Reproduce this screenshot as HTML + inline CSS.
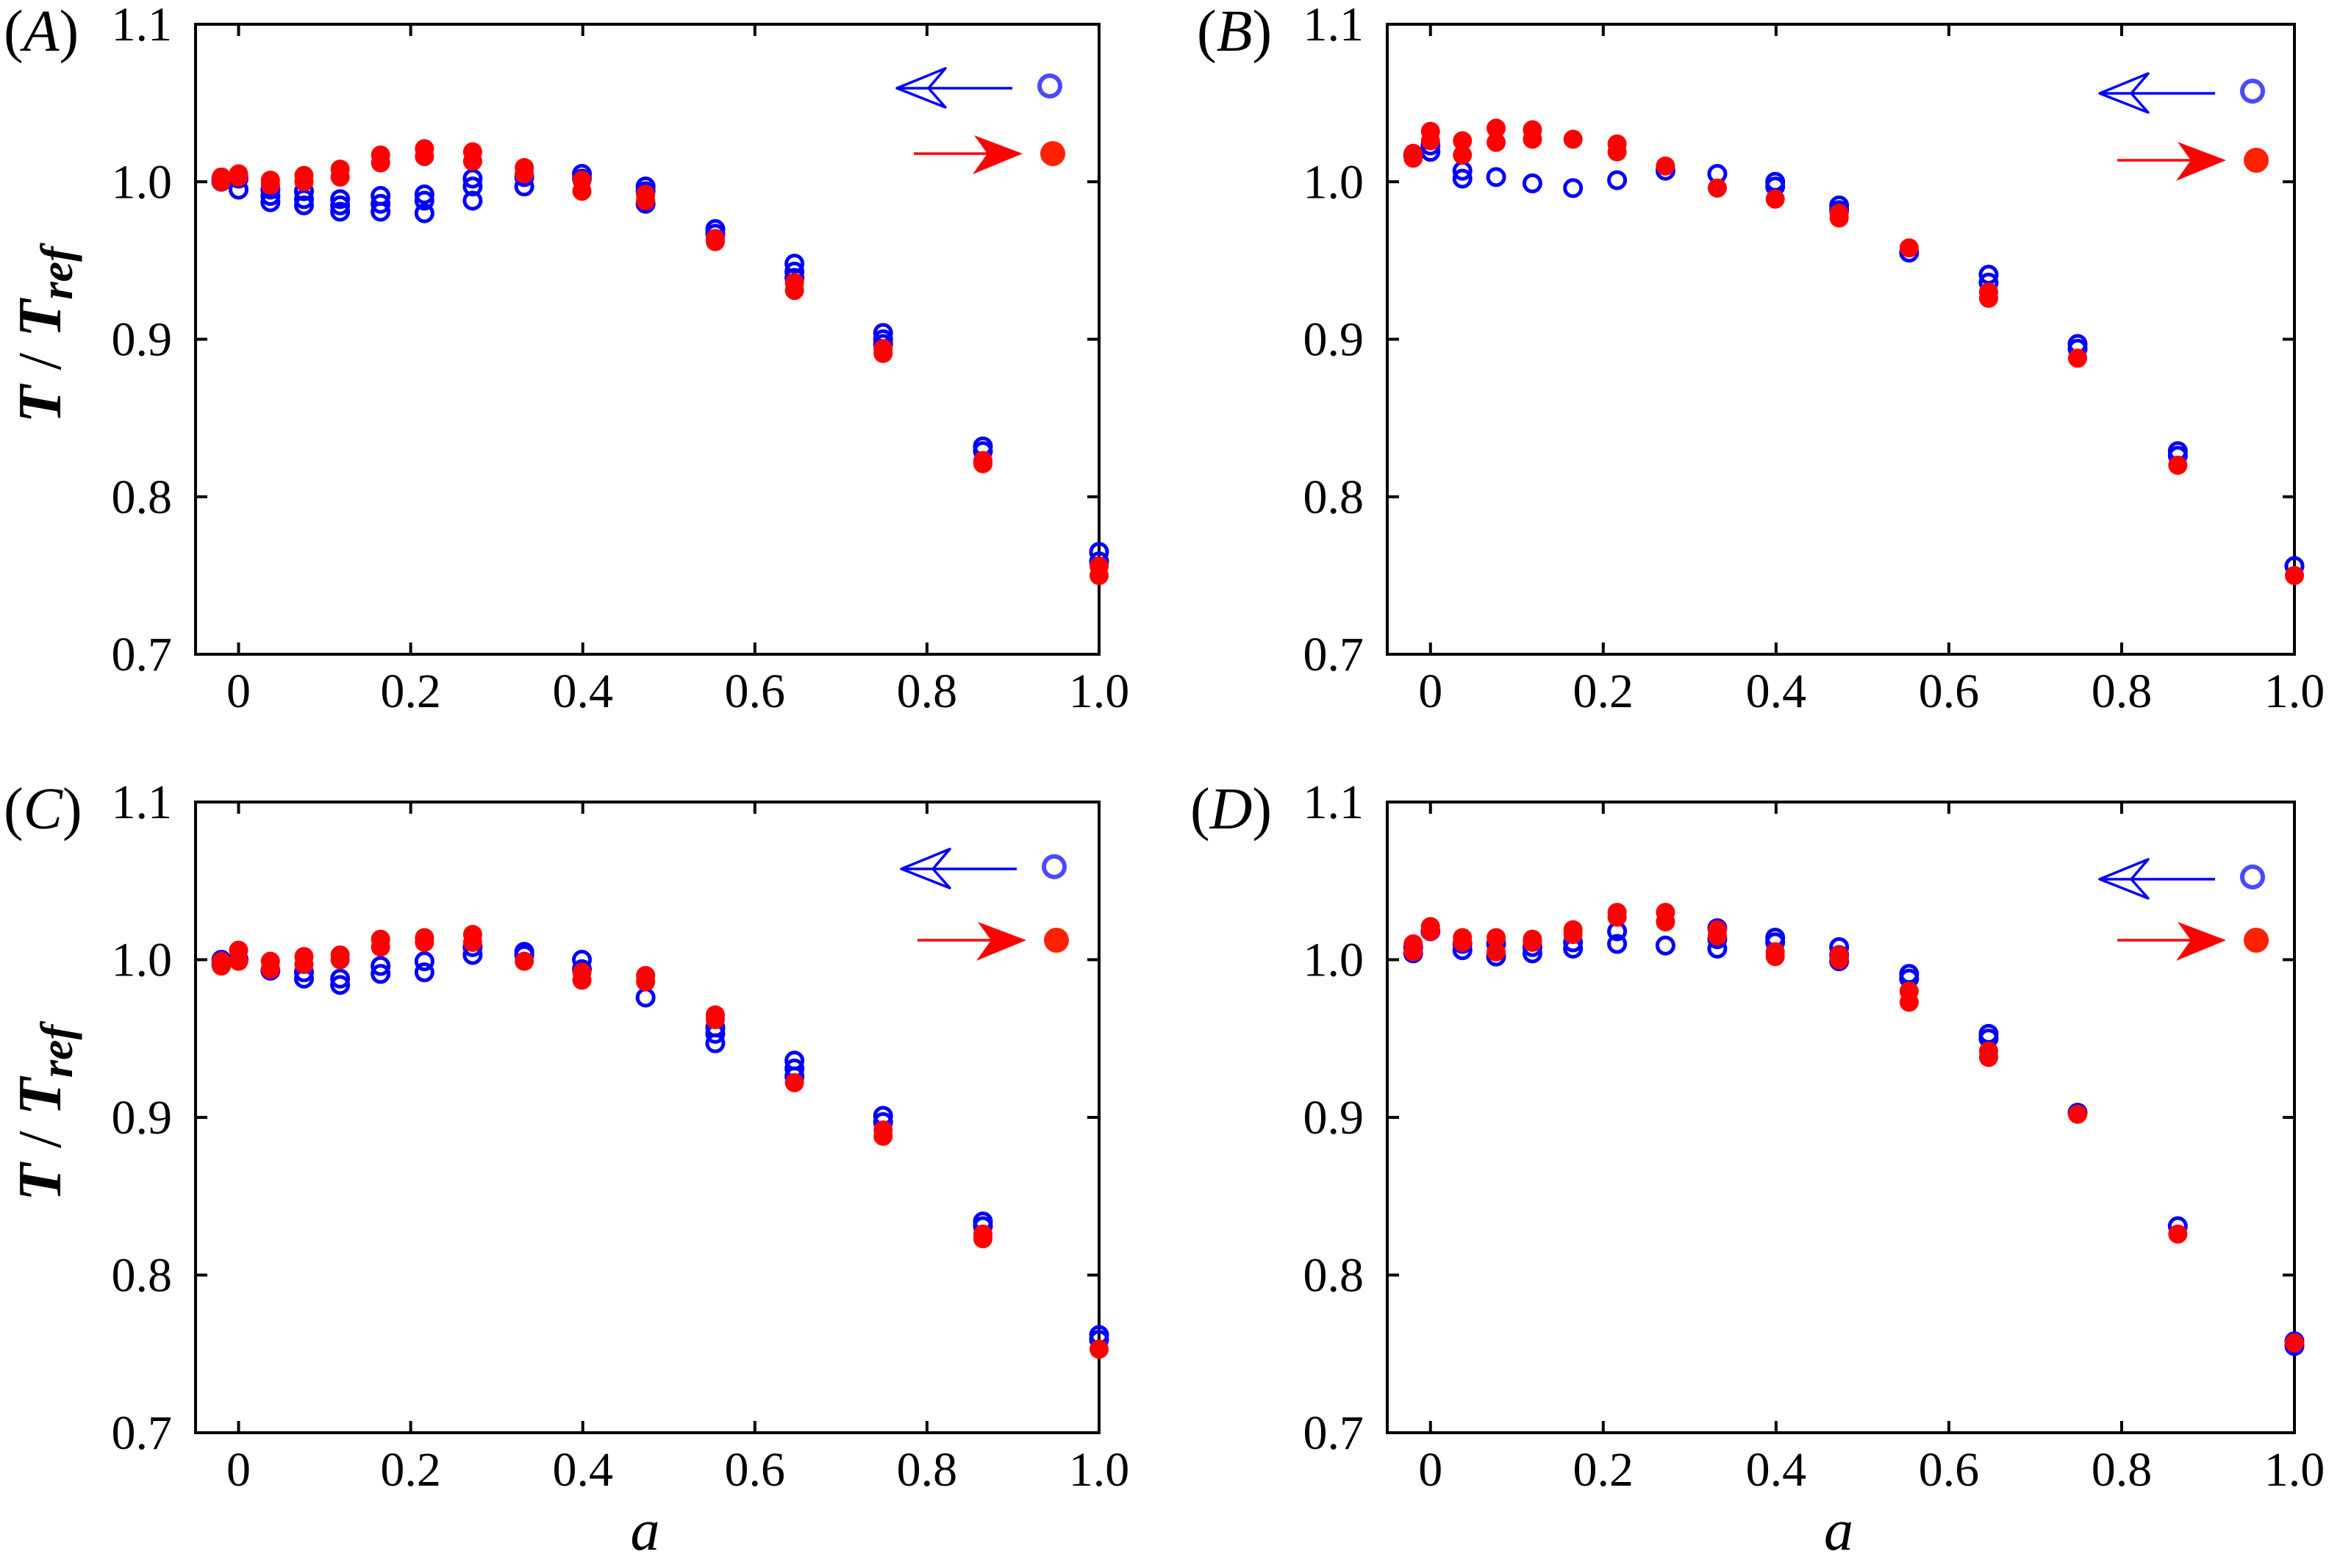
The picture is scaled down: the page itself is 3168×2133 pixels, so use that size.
<!DOCTYPE html>
<html><head><meta charset="utf-8"><style>
html,body{margin:0;padding:0;background:#fff;}
svg{display:block;}
text{font-family:"Liberation Serif","DejaVu Serif",serif;fill:#000;}
</style></head><body>
<svg id="fig" width="3168" height="2133" viewBox="0 0 3168 2133" xmlns="http://www.w3.org/2000/svg"></svg>
<script>
// shared categories (a values) and ticks
const aValues = [-0.02, 0, 0.037, 0.076, 0.118, 0.165, 0.216, 0.272, 0.332, 0.399, 0.473, 0.554, 0.646, 0.749, 0.865, 1.0];
const xTicks = [0, 0.2, 0.4, 0.6, 0.8, 1.0];
const xTickLabels = ["0", "0.2", "0.4", "0.6", "0.8", "1.0"];
const yTicks = [0.7, 0.8, 0.9, 1.0, 1.1];
const yTickLabels = ["0.7", "0.8", "0.9", "1.0", "1.1"];

// Panel A
const blueA = [[1.002,1.000],[1.002,0.995],[0.995,0.991,0.987],[0.994,0.989,0.985],[0.989,0.985,0.981],[0.991,0.986,0.981],[0.992,0.988,0.980],[1.002,0.997,0.988],[1.003,0.997],[1.005,1.002],[0.997,0.994,0.986],[0.970,0.967],[0.948,0.943,0.939],[0.904,0.900,0.897],[0.832,0.829],[0.765,0.759]];
const redA = [[1.003,1.000],[1.005,1.003],[1.001,0.998],[1.004,1.000],[1.008,1.003],[1.017,1.012],[1.021,1.016],[1.019,1.013],[1.009,1.005],[1.001,0.994],[0.992,0.988],[0.964,0.962],[0.936,0.931],[0.894,0.891],[0.823,0.821],[0.756,0.750]];
// Panel B
const blueB = [[1.017],[1.023,1.019],[1.007,1.002],[1.003],[0.999],[0.996],[1.001],[1.007],[1.005],[1.000,0.997],[0.985,0.982],[0.955],[0.941,0.936],[0.897,0.894],[0.829,0.826],[0.756]];
const redB = [[1.018,1.015],[1.032,1.026],[1.026,1.017],[1.034,1.025],[1.033,1.027],[1.027],[1.024,1.019],[1.010],[0.996],[0.989],[0.980,0.977],[0.958],[0.930,0.926],[0.888],[0.820],[0.750]];
// Panel C
const blueC = [[1.000,0.997],[1.000],[0.993],[0.992,0.988],[0.988,0.984],[0.996,0.991],[0.999,0.992],[1.008,1.003],[1.005,1.003],[1.000,0.994],[0.976],[0.957,0.953,0.947],[0.936,0.931,0.926],[0.901,0.897],[0.834,0.831],[0.762,0.759]];
const redC = [[0.999,0.996],[1.006,0.999],[0.999,0.994],[1.002,0.997],[1.003,1.000],[1.013,1.008],[1.014,1.011],[1.016,1.011],[0.999],[0.992,0.987],[0.990,0.986],[0.965,0.962],[0.922],[0.892,0.888],[0.826,0.823],[0.753]];
// Panel D
const blueD = [[1.008,1.004],[1.018],[1.010,1.006],[1.010,1.002],[1.008,1.004],[1.011,1.007],[1.018,1.010],[1.009],[1.020,1.013,1.007],[1.014,1.011],[1.008,1.003,0.999],[0.991,0.988],[0.953,0.950],[0.903],[0.831],[0.758,0.755]];
const redD = [[1.010,1.005],[1.021,1.018],[1.014,1.011],[1.014,1.005],[1.013,1.011],[1.019,1.016],[1.030,1.027],[1.030,1.024],[1.019,1.015],[1.005,1.002],[1.003,1.000],[0.980,0.973],[0.942,0.938],[0.902],[0.826],[0.757]];

const NS = "http://www.w3.org/2000/svg";
const svg = document.getElementById("fig");
function mk(tag, attrs, parent) {
  const e = document.createElementNS(NS, tag);
  for (const k in attrs) e.setAttribute(k, attrs[k]);
  (parent || svg).appendChild(e);
  return e;
}

const panels = [
  {id:"a", label:"A", L:266, R:1495, T:33, B:890, blue:blueA, red:redA, lg:[-67,84,-63,176], ylab:true, xlab:false, lx:5},
  {id:"b", label:"B", L:1887, R:3121, T:33, B:890, blue:blueB, red:redB, lg:[-57,91,-52,185], ylab:false, xlab:false, lx:1628},
  {id:"c", label:"C", L:266, R:1495, T:1091, B:1949, blue:blueC, red:redC, lg:[-61,88,-58,188], ylab:true, xlab:true, lx:5},
  {id:"d", label:"D", L:1887, R:3121, T:1091, B:1949, blue:blueD, red:redD, lg:[-57,102,-52,188], ylab:false, xlab:true, lx:1619}
];

panels.forEach(p => {
  const g = mk("g", {});
  
  
  const x0 = p.L + (p.R - p.L) * 0.05 / 1.05;
  const xs = v => x0 + v * (p.R - x0);
  const ys = v => p.B - (v - 0.7) / 0.4 * (p.B - p.T);

  const fr = mk("rect", {x:p.L, y:p.T, width:p.R-p.L, height:p.B-p.T, fill:"none", stroke:"#000", "stroke-width":4}, g);
  
  

  xTicks.forEach((v, i) => {
    const x = xs(v);
    mk("line", {x1:x, y1:p.B, x2:x, y2:p.B-16, stroke:"#000", "stroke-width":4}, g);
    mk("line", {x1:x, y1:p.T, x2:x, y2:p.T+16, stroke:"#000", "stroke-width":4}, g);
    const t = mk("text", {x:x, y:p.B+72, "font-size":66, "text-anchor":"middle"}, g);
    t.textContent = xTickLabels[i];
    
    
  });
  yTicks.forEach((v, i) => {
    const y = ys(v);
    mk("line", {x1:p.L, y1:y, x2:p.L+16, y2:y, stroke:"#000", "stroke-width":4}, g);
    mk("line", {x1:p.R, y1:y, x2:p.R-16, y2:y, stroke:"#000", "stroke-width":4}, g);
    const t = mk("text", {x:p.L-32, y:y+22, "font-size":66, "text-anchor":"end"}, g);
    t.textContent = yTickLabels[i];
    
    
  });

  p.blue.forEach((col, i) => col.forEach(v => {
    const c = mk("circle", {cx:xs(aValues[i]), cy:ys(v), r:11, fill:"none", stroke:"#0000ff", "stroke-width":5}, g);
    
    
  }));
  p.red.forEach((col, i) => col.forEach(v => {
    const c = mk("circle", {cx:xs(aValues[i]), cy:ys(v), r:13, fill:"#ff0000"}, g);
    
    
  }));

  const bx = p.R + p.lg[0], by = p.T + p.lg[1], rx = p.R + p.lg[2], ry = p.T + p.lg[3];
  const lb = mk("g", {}, g);
  
  
  mk("line", {x1:bx-51, y1:by+3, x2:bx-205, y2:by+3, stroke:"#0000ff", "stroke-width":3.5}, lb);
  mk("path", {d:`M${bx-142},${by-24} L${bx-208},${by+3} L${bx-142},${by+29} L${bx-165},${by+3} Z`, fill:"none", stroke:"#0000ff", "stroke-width":3.5, "stroke-linejoin":"round"}, lb);
  mk("circle", {cx:bx, cy:by, r:14, fill:"none", stroke:"#4a4aff", "stroke-width":6}, lb);
  const lr = mk("g", {}, g);
  
  
  mk("line", {x1:rx-189, y1:ry, x2:rx-80, y2:ry, stroke:"#ff0000", "stroke-width":3.5}, lr);
  mk("path", {d:`M${rx-107},${ry-25} L${rx-41},${ry} L${rx-109},${ry+28} L${rx-89},${ry} Z`, fill:"#ff0000"}, lr);
  mk("circle", {cx:rx, cy:ry, r:17, fill:"#ff2200"}, lr);

  const pl = mk("text", {x:p.lx, y:p.T+36, "font-size":80}, g);
  pl.innerHTML = '(<tspan font-style="italic">' + p.label + '</tspan>)';
  
  

  if (p.ylab) {
    const cy = (p.T + p.B) / 2 - 6;
    const t = mk("text", {x:0, y:0, "font-size":84, "text-anchor":"middle", transform:`translate(82,${cy}) rotate(-90)`}, g);
    t.innerHTML = '<tspan font-weight="bold" font-style="italic">T</tspan> / <tspan font-weight="bold" font-style="italic">T</tspan><tspan font-weight="bold" font-style="italic" font-size="62" dy="16">ref</tspan>';
    
    
  }
  if (p.xlab) {
    const t = mk("text", {x:(p.L+p.R)/2 - 3, y:2108, "font-size":80, "font-style":"italic", "text-anchor":"middle"}, g);
    t.textContent = "a";
    
    
  }
});
</script>
</body></html>
